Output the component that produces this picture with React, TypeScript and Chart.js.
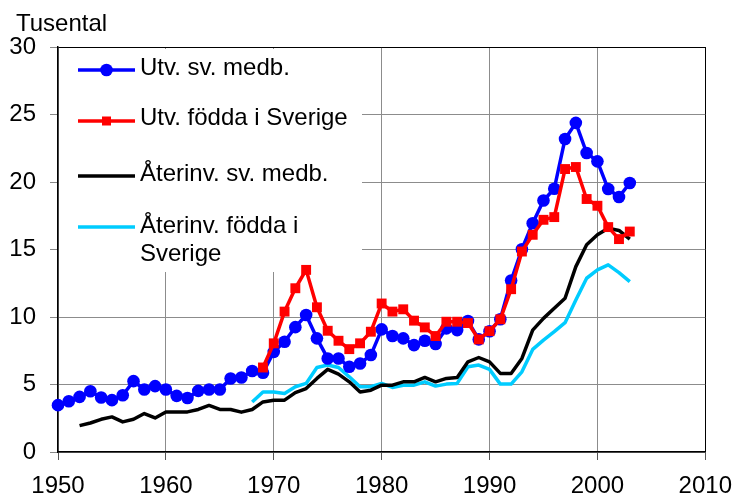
import React, { useEffect, useRef } from "react";
import { Chart, registerables } from "chart.js";

Chart.register(...registerables);

// ---- Data (thousands) ----
const yTicks = [0, 5, 10, 15, 20, 25, 30];
const xTicks = [1950, 1960, 1970, 1980, 1990, 2000, 2010];

const utvSvMedbStart = 1950;
const utvSvMedb = [
  3.47, 3.76, 4.08, 4.5, 4.04, 3.84, 4.2, 5.25, 4.63, 4.88,
  4.63, 4.16, 4.0, 4.53, 4.63, 4.63, 5.45, 5.52, 6.0, 5.87,
  7.42, 8.17, 9.25, 10.15, 8.42, 6.93, 6.93, 6.31, 6.56, 7.18,
  9.08, 8.59, 8.42, 7.92, 8.24, 8.0, 9.16, 9.03, 9.7, 8.34,
  8.95, 9.83, 12.7, 15.02, 16.95, 18.63, 19.5, 23.19, 24.38, 22.15,
  21.53, 19.48, 18.89, 19.93,
];

const utvFoddaStart = 1969;
const utvFodda = [
  6.26, 8.05, 10.4, 12.13, 13.49, 10.72, 8.98, 8.24, 7.62, 8.05,
  8.91, 11.0, 10.4, 10.57, 9.73, 9.23, 8.59, 9.65, 9.65, 9.55,
  8.34, 8.95, 9.83, 12.06, 14.85, 16.09, 17.2, 17.4, 20.96, 21.11,
  18.74, 18.24, 16.66, 15.77, 16.33,
];

const aterSvMedbStart = 1952;
const aterSvMedb = [
  1.95, 2.15, 2.42, 2.6, 2.23, 2.43, 2.85, 2.52, 2.97, 2.97,
  2.97, 3.15, 3.45, 3.15, 3.15, 2.95, 3.15, 3.71, 3.84, 3.84,
  4.4, 4.7, 5.45, 6.12, 5.77, 5.2, 4.45, 4.58, 4.95, 4.95,
  5.2, 5.2, 5.52, 5.2, 5.45, 5.52, 6.68, 7.0, 6.68, 5.82,
  5.82, 6.93, 9.03, 9.9, 10.65, 11.39, 13.73, 15.35, 16.09, 16.58,
  16.41, 15.77,
];

const aterFoddaStart = 1968;
const aterFodda = [
  3.7, 4.45, 4.45, 4.34, 4.83, 5.08, 6.26, 6.44, 6.26, 5.57,
  4.83, 4.83, 5.08, 4.78, 4.95, 4.95, 5.2, 4.88, 5.03, 5.08,
  6.31, 6.44, 6.12, 5.03, 5.03, 5.94, 7.6, 8.29, 8.91, 9.58,
  11.26, 12.87, 13.49, 13.86, 13.29, 12.62,
];

const legendLabels = [
  ["Utv. sv. medb."],
  ["Utv. födda i Sverige"],
  ["Återinv. sv. medb."],
  ["Återinv. födda i", "Sverige"],
];
const yAxisTitle = "Tusental";

const FONT = '"Liberation Sans", Arial, Helvetica, sans-serif';
const FS = 24;

function toPoints(start: number, vals: number[]) {
  return vals.map((v, i) => ({ x: start + i, y: v }));
}

export default function App() {
  const ref = useRef<HTMLCanvasElement | null>(null);

  useEffect(() => {
    if (!ref.current) return;

    const overlay = {
      id: "overlay",
      beforeDatasetsDraw(chart: any) {
        const ctx = chart.ctx;
        const ca = chart.chartArea;
        ctx.save();
        // legend box
        ctx.fillStyle = "#ffffff";
        ctx.fillRect(ca.left + 1, 49, 362 - ca.left - 1, 272 - 49);
        const ds = chart.data.datasets;
        const order = [0, 1, 2, 3];
        const lineYs = [70, 121, 176, 227];
        const baselines = [[75], [125], [181], [233, 261]];
        ctx.font = `${FS}px ${FONT}`;
        ctx.textBaseline = "alphabetic";
        ctx.textAlign = "left";
        order.forEach((di, k) => {
          const d = ds[di];
          const y = lineYs[k];
          ctx.strokeStyle = d.borderColor;
          ctx.lineWidth = d.borderWidth;
          ctx.lineCap = "butt";
          ctx.beginPath();
          ctx.moveTo(78, y);
          ctx.lineTo(135, y);
          ctx.stroke();
          if (d.pointRadius > 0) {
            ctx.fillStyle = d.pointBackgroundColor;
            if (d.pointStyle === "rect") {
              const s = 9;
              ctx.fillRect(106.5 - s / 2, y - s / 2, s, s);
            } else {
              ctx.beginPath();
              ctx.arc(106.5, y, 6.3, 0, Math.PI * 2);
              ctx.fill();
            }
          }
          ctx.fillStyle = "#000";
          legendLabels[k].forEach((t, j) => {
            ctx.fillText(t, 140, baselines[k][j]);
          });
        });
        ctx.restore();
      },
      afterDraw(chart: any) {
        const ctx = chart.ctx;
        ctx.save();
        ctx.font = `${FS}px ${FONT}`;
        ctx.fillStyle = "#000";
        ctx.textBaseline = "alphabetic";
        ctx.textAlign = "left";
        ctx.fillText(yAxisTitle, 16, 31);
        ctx.restore();
      },
    };

    const chart = new Chart(ref.current, {
      type: "line",
      data: {
        datasets: [
          {
            label: legendLabels[0].join(" "),
            data: toPoints(utvSvMedbStart, utvSvMedb),
            borderColor: "#0000ff",
            backgroundColor: "#0000ff",
            pointBackgroundColor: "#0000ff",
            pointBorderColor: "#0000ff",
            borderWidth: 3.5,
            pointRadius: 6.3,
            pointBorderWidth: 0,
            pointStyle: "circle",
            clip: false,
            order: 1,
          } as any,
          {
            label: legendLabels[1].join(" "),
            data: toPoints(utvFoddaStart, utvFodda),
            borderColor: "#ff0000",
            backgroundColor: "#ff0000",
            pointBackgroundColor: "#ff0000",
            pointBorderColor: "#ff0000",
            borderWidth: 3.5,
            pointRadius: 7,
            pointBorderWidth: 0,
            pointStyle: "rect",
            clip: false,
            order: 0,
          } as any,
          {
            label: legendLabels[2].join(" "),
            data: toPoints(aterSvMedbStart, aterSvMedb),
            borderColor: "#000000",
            backgroundColor: "#000000",
            borderWidth: 3.5,
            pointRadius: 0,
            clip: false,
            order: 2,
          } as any,
          {
            label: legendLabels[3].join(" "),
            data: toPoints(aterFoddaStart, aterFodda),
            borderColor: "#00ccff",
            backgroundColor: "#00ccff",
            borderWidth: 3.5,
            pointRadius: 0,
            clip: false,
            order: 3,
          } as any,
        ],
      },
      options: {
        animation: false,
        responsive: false,
        events: [],
        layout: { padding: { top: 47, right: 30, left: 0, bottom: 0 } },
        elements: { line: { tension: 0, borderJoinStyle: "round" } },
        plugins: {
          legend: { display: false },
          tooltip: { enabled: false },
          title: { display: false },
        },
        scales: {
          x: {
            type: "linear",
            min: 1950,
            max: 2010,
            afterBuildTicks: (s: any) => {
              s.ticks = xTicks.map((v) => ({ value: v }));
            },
            afterFit: (s: any) => {
              s.height = 45;
            },
            ticks: {
              color: "#000",
              font: { family: FONT, size: FS },
              padding: 12,
              maxRotation: 0,
              autoSkip: false,
              callback: (v: any) => String(v),
            },
            grid: {
              color: (c: any) =>
                c.tick && c.tick.value === 2010 ? "#000" : "#8c8c8c",
              tickColor: "#555",
              tickLength: 8,
              lineWidth: 1,
            },
            border: { color: "#000", width: 1.5 },
          },
          y: {
            type: "linear",
            min: 0,
            max: 30,
            afterBuildTicks: (s: any) => {
              s.ticks = yTicks.map((v) => ({ value: v }));
            },
            afterFit: (s: any) => {
              s.width = 58;
            },
            ticks: {
              color: "#000",
              font: { family: FONT, size: FS },
              padding: 14,
              callback: (v: any) => String(v),
            },
            grid: {
              color: (c: any) =>
                c.tick && c.tick.value === 30 ? "#000" : "#8c8c8c",
              tickColor: "#888",
              tickLength: 8,
              lineWidth: 1,
            },
            border: { color: "#000", width: 1.5 },
          },
        },
      },
      plugins: [overlay],
    });

    return () => chart.destroy();
  }, []);

  return (
    <div
      style={{
        position: "absolute",
        left: 0,
        top: 0,
        width: 744,
        height: 497,
        background: "#fff",
      }}
    >
      <canvas ref={ref} width={744} height={497} />
    </div>
  );
}
